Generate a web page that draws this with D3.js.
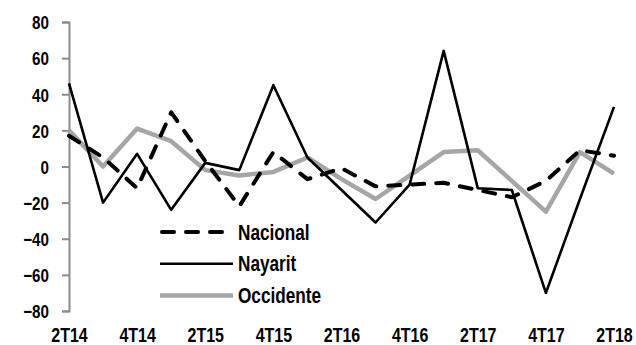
<!DOCTYPE html>
<html>
<head>
<meta charset="utf-8">
<script src="https://cdn.jsdelivr.net/npm/d3@7"></script>
<style>
  html, body { margin: 0; padding: 0; background: #fff; }
  svg { display: block; }
  text { font-family: "Liberation Sans", Arial, sans-serif; font-weight: bold; fill: #000; transform-box: fill-box; }
  .ylab { transform-origin: right center; transform: scaleX(0.8); }
  .xlab { transform-origin: center center; transform: scaleX(0.8); }
  .leglab { transform-origin: left center; transform: scaleX(0.8); }
</style>
</head>
<body>
<svg id="chart" width="636" height="345"></svg>
<script>
const categories = ["2T14","3T14","4T14","1T15","2T15","3T15","4T15","1T16","2T16","3T16","4T16","1T17","2T17","3T17","4T17","1T18","2T18"];
const xTickLabels = ["2T14","4T14","2T15","4T15","2T16","4T16","2T17","4T17","2T18"];
const yTickValues = [-80,-60,-40,-20,0,20,40,60,80];
const nacional  = [17, 5, -12, 30, 3, -22, 8, -7, -1, -11, -10, -9, -13, -17, -8, 9, 6];
const nayarit   = [46, -20, 7, -24, 2, -2, 45, 5, -13, -31, -10, 64, -12, -13, -70, -18, 33];
const occidente = [20, 0, 21, 14, -2, -5, -3, 5, -7, -18, -5, 8, 9, -8, -25, 8, -4];
const seriesNames = ["Nacional", "Nayarit", "Occidente"];

const svg = d3.select("#chart");
const x = d3.scalePoint().domain(categories).range([69, 614]);
const y = d3.scaleLinear().domain([-80, 80]).range([311, 22]);

const styles = {
  Nacional:  { stroke: "#000", width: 4, dash: "12,12", cap: "round" },
  Nayarit:   { stroke: "#000", width: 2.6, dash: null, cap: "butt" },
  Occidente: { stroke: "#a6a6a6", width: 4.5, dash: null, cap: "butt" }
};
const seriesData = { Nacional: nacional, Nayarit: nayarit, Occidente: occidente };

// Y axis
const yAxis = d3.axisLeft(y).tickValues(yTickValues).tickSize(7).tickPadding(13).tickFormat(d3.format("d"));
const gy = svg.append("g").attr("transform", "translate(69,0)").call(yAxis);
gy.select(".domain").attr("stroke", "#8c8c8c").attr("stroke-width", 2);
gy.selectAll(".tick line").attr("stroke", "#8c8c8c").attr("stroke-width", 2);
gy.selectAll(".tick text").attr("class", "ylab").style("font-size", "19px").attr("dy", "0.36em");

// X labels
const xAxis = d3.axisBottom(x).tickValues(xTickLabels).tickSize(0).tickPadding(0);
const gx = svg.append("g").attr("transform", "translate(0,324)").call(xAxis);
gx.select(".domain").remove();
gx.selectAll(".tick text").attr("class", "xlab").style("font-size", "20px").attr("dy", "0.9em");

// Lines
const line = d3.line().x((d, i) => x(categories[i])).y(d => y(d));
["Occidente", "Nacional", "Nayarit"].forEach(name => {
  const s = styles[name];
  svg.append("path")
    .datum(seriesData[name])
    .attr("d", line)
    .attr("fill", "none")
    .attr("stroke", s.stroke)
    .attr("stroke-width", s.width)
    .attr("stroke-linejoin", "round")
    .attr("stroke-linecap", s.cap)
    .attr("stroke-dasharray", s.dash);
});

// Legend
const legend = svg.append("g").attr("transform", "translate(160,232)");
seriesNames.forEach((name, i) => {
  const s = styles[name];
  const g = legend.append("g").attr("transform", `translate(0,${i * 31.7})`);
  g.append("line")
    .attr("x1", s.cap === "round" ? 2 : 0).attr("x2", s.cap === "round" ? 71 : 73)
    .attr("y1", 0).attr("y2", 0)
    .attr("stroke", s.stroke)
    .attr("stroke-width", s.width)
    .attr("stroke-linecap", s.cap)
    .attr("stroke-dasharray", s.dash);
  g.append("text").attr("class", "leglab").attr("x", 78).attr("y", 0).attr("dy", "0.36em")
    .style("font-size", "21.5px").text(name);
});
</script>
</body>
</html>
